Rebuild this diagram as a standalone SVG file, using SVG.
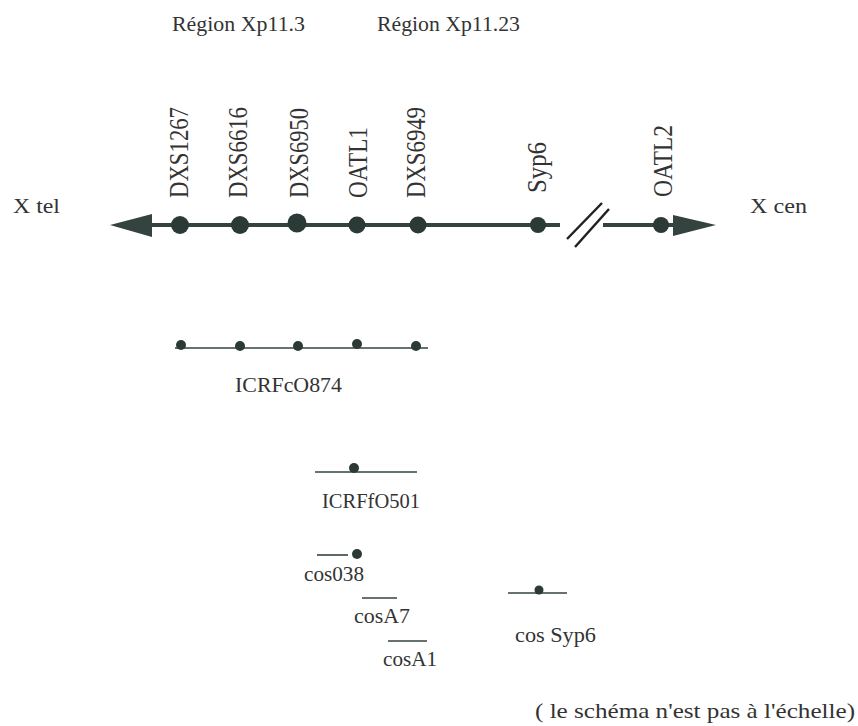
<svg xmlns="http://www.w3.org/2000/svg" width="858" height="726" viewBox="0 0 858 726">
<style>
text{font-family:"Liberation Serif","Times New Roman",serif;fill:#333;}
.h{font-size:22px;}
.v{font-size:27px;}
.axis{stroke:#34433f;stroke-width:4;fill:none;}
.clone{stroke:#34433f;stroke-width:1.6;fill:none;}
.dot{fill:#2b3a36;}
.slash{stroke:#222;stroke-width:2.5;}
.head{fill:#34433f;}
</style>
<rect width="858" height="726" fill="#fff"/>
<g id="headers">
<text class="h" x="172" y="31" textLength="133" lengthAdjust="spacingAndGlyphs">Région Xp11.3</text>
<text class="h" x="377" y="31" textLength="143" lengthAdjust="spacingAndGlyphs">Région Xp11.23</text>
</g>
<g id="connectors">
<line class="axis" x1="145" y1="225" x2="560" y2="225"/>
<line class="axis" x1="603" y1="225" x2="678" y2="225"/>
<polygon class="head" points="110,225 152,214 152,237"/>
<polygon class="head" points="716,225 673,215 673,236"/>
<line class="slash" x1="567" y1="239" x2="602" y2="203"/>
<line class="slash" x1="575" y1="247" x2="609" y2="209"/>
</g>
<g id="x-tel"><text class="h" x="13" y="213" textLength="47" lengthAdjust="spacingAndGlyphs">X tel</text></g>
<g id="x-cen"><text class="h" x="750" y="213" textLength="57" lengthAdjust="spacingAndGlyphs">X cen</text></g>
<g id="DXS1267"><circle class="dot" cx="180" cy="225" r="9"/><text class="v" transform="translate(188,198) rotate(-90)" textLength="91" lengthAdjust="spacingAndGlyphs">DXS1267</text></g>
<g id="DXS6616"><circle class="dot" cx="240" cy="225" r="9"/><text class="v" transform="translate(247,198) rotate(-90)" textLength="91" lengthAdjust="spacingAndGlyphs">DXS6616</text></g>
<g id="DXS6950"><circle class="dot" cx="297" cy="223" r="9.5"/><text class="v" transform="translate(308,198) rotate(-90)" textLength="90" lengthAdjust="spacingAndGlyphs">DXS6950</text></g>
<g id="OATL1"><circle class="dot" cx="357" cy="225" r="8.5"/><text class="v" transform="translate(367,198) rotate(-90)" textLength="71" lengthAdjust="spacingAndGlyphs">OATL1</text></g>
<g id="DXS6949"><circle class="dot" cx="418" cy="225" r="8.5"/><text class="v" transform="translate(425,198) rotate(-90)" textLength="91" lengthAdjust="spacingAndGlyphs">DXS6949</text></g>
<g id="Syp6"><circle class="dot" cx="538" cy="225" r="8"/><text class="v" transform="translate(546,193) rotate(-90)" textLength="51" lengthAdjust="spacingAndGlyphs">Syp6</text></g>
<g id="OATL2"><circle class="dot" cx="661" cy="225" r="8"/><text class="v" transform="translate(672,197) rotate(-90)" textLength="72" lengthAdjust="spacingAndGlyphs">OATL2</text></g>
<g id="ICRFcO874">
<line class="clone" x1="175" y1="348" x2="428" y2="348"/>
<circle class="dot" cx="181" cy="345" r="5"/><circle class="dot" cx="240" cy="346" r="5"/><circle class="dot" cx="298" cy="346" r="5"/><circle class="dot" cx="357" cy="344" r="5"/><circle class="dot" cx="416" cy="346" r="5"/>
<text class="h" x="235" y="392" textLength="107" lengthAdjust="spacingAndGlyphs">ICRFcO874</text>
</g>
<g id="ICRFfO501">
<line class="clone" x1="315" y1="472" x2="417" y2="472"/>
<circle class="dot" cx="354" cy="468" r="5"/>
<text class="h" x="322" y="508" textLength="98" lengthAdjust="spacingAndGlyphs">ICRFfO501</text>
</g>
<g id="cos038">
<line class="clone" x1="317" y1="555" x2="348" y2="555"/>
<circle class="dot" cx="357" cy="554" r="5"/>
<text class="h" x="304" y="581" textLength="60" lengthAdjust="spacingAndGlyphs">cos038</text>
</g>
<g id="cosA7">
<line class="clone" x1="362" y1="598" x2="397" y2="598"/>
<text class="h" x="354" y="623" textLength="56" lengthAdjust="spacingAndGlyphs">cosA7</text>
</g>
<g id="cosA1">
<line class="clone" x1="388" y1="641" x2="427" y2="641"/>
<text class="h" x="383" y="666" textLength="54" lengthAdjust="spacingAndGlyphs">cosA1</text>
</g>
<g id="cosSyp6">
<line class="clone" x1="508" y1="593" x2="567" y2="593"/>
<circle class="dot" cx="539" cy="590" r="4.5"/>
<text class="h" x="515" y="642" textLength="81" lengthAdjust="spacingAndGlyphs">cos Syp6</text>
</g>
<g id="note"><text class="h" x="535" y="718" textLength="320" lengthAdjust="spacingAndGlyphs">( le schéma n'est pas à l'échelle)</text></g>
</svg>
